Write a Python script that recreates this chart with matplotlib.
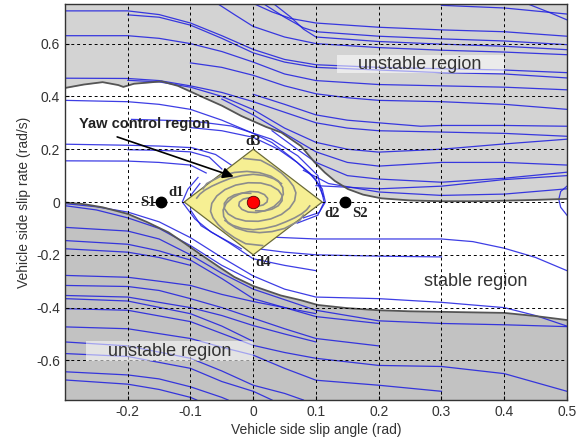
import matplotlib
matplotlib.use("Agg")
import matplotlib.pyplot as plt
from matplotlib.patches import Polygon, Rectangle

plt.rcParams["font.family"] = ["Liberation Sans", "DejaVu Sans"]

# axis ticks
x_ticks = [-0.2, -0.1, 0, 0.1, 0.2, 0.3, 0.4, 0.5]
x_tick_labels = ["-0.2", "-0.1", "0", "0.1", "0.2", "0.3", "0.4", "0.5"]
y_ticks = [-0.6, -0.4, -0.2, 0, 0.2, 0.4, 0.6]
y_tick_labels = ["-0.6", "-0.4", "-0.2", "0", "0.2", "0.4", "0.6"]

# stability boundaries
upper_bound_x = [-0.3, -0.27, -0.24, -0.215, -0.207, -0.19, -0.17, -0.146, -0.12, -0.083,
                 -0.05, -0.019, 0.02, 0.045, 0.076, 0.098, 0.114, 0.13, 0.151, 0.175,
                 0.204, 0.25, 0.3, 0.35, 0.4, 0.45, 0.5]
upper_bound_y = [0.432, 0.445, 0.454, 0.443, 0.436, 0.448, 0.452, 0.457, 0.44, 0.40,
                 0.365, 0.326, 0.285, 0.263, 0.212, 0.15, 0.112, 0.08, 0.049, 0.028,
                 0.014, 0.006, 0.003, 0.003, 0.005, 0.008, 0.012]
lower_bound_x = [-0.3, -0.27, -0.24, -0.2, -0.17, -0.135, -0.11, -0.083, -0.055, -0.03,
                 0.0, 0.044, 0.076, 0.103, 0.15, 0.2, 0.25, 0.3, 0.35, 0.4, 0.45, 0.5]
lower_bound_y = [-0.002, -0.008, -0.02, -0.045, -0.075, -0.115, -0.155, -0.2, -0.245, -0.284,
                 -0.318, -0.354, -0.372, -0.39, -0.402, -0.41, -0.414, -0.416, -0.418, -0.42,
                 -0.432, -0.447]

# trajectories in the upper unstable region
upper_paths = [
    [(-0.056, 0.75), (-0.03, 0.71), (0.0, 0.665), (0.05, 0.625), (0.1, 0.60), (0.2, 0.585), (0.3, 0.575), (0.4, 0.568), (0.5, 0.558)],
    [(0.002, 0.75), (0.03, 0.72), (0.06, 0.695), (0.1, 0.678), (0.2, 0.662), (0.3, 0.652), (0.4, 0.645), (0.5, 0.628)],
    [(0.017, 0.75), (0.05, 0.70), (0.08, 0.66), (0.1, 0.645), (0.2, 0.628), (0.3, 0.618), (0.4, 0.61), (0.5, 0.596)],
    [(0.033, 0.75), (0.06, 0.70), (0.08, 0.655), (0.1, 0.625), (0.2, 0.608), (0.3, 0.598), (0.4, 0.59), (0.5, 0.577)],
    [(0.30, 0.745), (0.4, 0.735), (0.5, 0.712)],
    [(0.44, 0.748), (0.47, 0.72), (0.5, 0.69)],
    [(-0.3, 0.724), (-0.2, 0.724), (-0.15, 0.71), (-0.1, 0.678), (-0.05, 0.63), (0.0, 0.578), (0.05, 0.54), (0.1, 0.52), (0.2, 0.51), (0.3, 0.505), (0.4, 0.5), (0.5, 0.49)],
    [(-0.2, 0.709), (-0.15, 0.70), (-0.1, 0.67), (-0.05, 0.62), (0.0, 0.565), (0.05, 0.53), (0.1, 0.51), (0.2, 0.50), (0.3, 0.49), (0.4, 0.485), (0.5, 0.47)],
    [(-0.3, 0.63), (-0.2, 0.63), (-0.15, 0.62), (-0.1, 0.60), (-0.05, 0.57), (0.0, 0.53), (0.05, 0.485), (0.1, 0.46), (0.2, 0.445), (0.3, 0.44), (0.4, 0.435), (0.5, 0.425)],
    [(-0.1, 0.527), (-0.05, 0.51), (0.0, 0.48), (0.05, 0.44), (0.1, 0.41), (0.15, 0.395), (0.2, 0.385), (0.3, 0.38), (0.4, 0.37), (0.5, 0.351)],
    [(0.0, 0.408), (0.05, 0.37), (0.1, 0.33), (0.15, 0.31), (0.2, 0.30), (0.267, 0.287), (0.3, 0.29), (0.4, 0.29), (0.5, 0.287)],
    [(-0.3, 0.469), (-0.2, 0.468), (-0.15, 0.46), (-0.1, 0.44), (-0.05, 0.415), (0.0, 0.38), (0.05, 0.34), (0.1, 0.30), (0.15, 0.28), (0.2, 0.27), (0.3, 0.265), (0.4, 0.26), (0.5, 0.249)],
    [(-0.2, 0.461), (-0.15, 0.455), (-0.1, 0.435), (-0.05, 0.40), (0.0, 0.35), (0.05, 0.28), (0.1, 0.226), (0.15, 0.20), (0.2, 0.189), (0.3, 0.2), (0.4, 0.22), (0.5, 0.238)],
    [(-0.05, 0.39), (0.0, 0.33), (0.05, 0.26), (0.1, 0.19), (0.15, 0.15), (0.2, 0.136), (0.3, 0.15), (0.4, 0.15), (0.5, 0.14)],
    [(0.03, 0.27), (0.07, 0.2), (0.1, 0.15), (0.15, 0.1), (0.2, 0.087), (0.3, 0.075), (0.4, 0.09), (0.5, 0.113)],
    [(0.08, 0.12), (0.12, 0.07), (0.2, 0.038), (0.3, 0.025), (0.4, 0.03), (0.5, 0.05)],
    [(0.1, 0.062), (0.2, 0.05), (0.3, 0.06), (0.4, 0.085), (0.5, 0.1)],
    [(0.5, 0.06), (0.49, 0.04), (0.487, 0.01), (0.49, -0.02), (0.5, -0.05)],
]

# trajectories in the lower unstable region
lower_paths = [
    [(-0.3, -0.014), (-0.25, -0.03), (-0.2, -0.06), (-0.15, -0.1), (-0.1, -0.165), (-0.05, -0.24), (0.0, -0.30)],
    [(-0.3, -0.096), (-0.2, -0.11), (-0.15, -0.14), (-0.1, -0.2), (-0.05, -0.27), (0.0, -0.33), (0.05, -0.37), (0.1, -0.41), (0.2, -0.45), (0.3, -0.46), (0.4, -0.465), (0.5, -0.472)],
    [(-0.3, -0.146), (-0.2, -0.16), (-0.15, -0.185), (-0.1, -0.22), (-0.05, -0.29), (0.0, -0.366), (0.05, -0.40), (0.1, -0.434), (0.2, -0.46)],
    [(-0.3, -0.177), (-0.2, -0.19), (-0.15, -0.21), (-0.1, -0.24)],
    [(-0.3, -0.278), (-0.2, -0.285), (-0.15, -0.30), (-0.1, -0.316), (-0.05, -0.35), (0.0, -0.377), (0.05, -0.40), (0.1, -0.423)],
    [(-0.3, -0.316), (-0.2, -0.32), (-0.15, -0.335), (-0.1, -0.366), (-0.05, -0.40), (0.0, -0.44), (0.05, -0.48), (0.1, -0.517), (0.2, -0.545)],
    [(-0.3, -0.354), (-0.2, -0.36), (-0.1, -0.40), (-0.05, -0.43), (0.0, -0.468), (0.05, -0.50), (0.1, -0.53)],
    [(-0.3, -0.366), (-0.2, -0.375), (-0.1, -0.423), (-0.05, -0.47), (0.0, -0.528)],
    [(-0.3, -0.404), (-0.2, -0.41), (-0.1, -0.453), (0.0, -0.543), (0.05, -0.57), (0.1, -0.592), (0.2, -0.619), (0.3, -0.623), (0.4, -0.65), (0.5, -0.717)],
    [(-0.3, -0.473), (-0.2, -0.48), (-0.1, -0.517), (-0.05, -0.55), (0.0, -0.58), (0.05, -0.63), (0.1, -0.675), (0.2, -0.694), (0.3, -0.717)],
    [(-0.3, -0.53), (-0.2, -0.545), (-0.1, -0.592), (-0.05, -0.64), (0.0, -0.694), (0.05, -0.725), (0.08, -0.75)],
    [(-0.3, -0.574), (-0.2, -0.585), (-0.1, -0.63), (-0.05, -0.68), (0.0, -0.717), (0.03, -0.75)],
    [(-0.3, -0.643), (-0.2, -0.655), (-0.15, -0.67), (-0.1, -0.70), (-0.05, -0.74), (-0.04, -0.75)],
    [(-0.3, -0.674), (-0.2, -0.69), (-0.15, -0.71), (-0.1, -0.74), (-0.09, -0.75)],
]

# trajectories in the stable (white) region
stable_paths = [
    [(-0.3, 0.385), (-0.2, 0.38), (-0.15, 0.37), (-0.1, 0.351), (-0.05, 0.31), (0.0, 0.26), (0.03, 0.225), (0.06, 0.17), (0.09, 0.11), (0.11, 0.05), (0.115, 0.0), (0.105, -0.04), (0.08, -0.06)],
    [(-0.1, 0.282), (-0.05, 0.27), (0.0, 0.245), (0.04, 0.2), (0.07, 0.15), (0.1, 0.085), (0.112, 0.02)],
    [(-0.194, 0.313), (-0.098, 0.307), (-0.035, 0.288), (0.029, 0.238), (0.071, 0.175), (0.103, 0.1), (0.113, 0.0), (0.103, -0.05), (0.07, -0.08)],
    [(-0.3, 0.219), (-0.2, 0.215), (-0.15, 0.212), (-0.098, 0.206), (-0.06, 0.18), (-0.035, 0.14)],
    [(-0.2, 0.198), (-0.15, 0.196), (-0.1, 0.19), (-0.07, 0.17), (-0.05, 0.125)],
    [(-0.3, 0.156), (-0.2, 0.155), (-0.15, 0.15), (-0.1, 0.14), (-0.075, 0.11)],
    [(-0.088, 0.093), (-0.104, 0.049), (-0.113, 0.0), (-0.093, -0.064), (-0.067, -0.114), (-0.019, -0.177)],
    [(0.5, -0.26), (0.45, -0.21), (0.4, -0.175), (0.35, -0.15), (0.3, -0.14), (0.2, -0.14), (0.1, -0.14), (0.03, -0.133)],
    [(0.3, -0.208), (0.2, -0.205), (0.1, -0.2), (0.05, -0.19), (0.007, -0.177)],
    [(0.1, -0.26), (0.05, -0.24), (0.0, -0.215), (-0.04, -0.152), (-0.083, -0.09), (-0.1, -0.03), (-0.098, 0.03), (-0.085, 0.07)],
    [(0.5, -0.47), (0.45, -0.43), (0.4, -0.40), (0.3, -0.38), (0.2, -0.366), (0.1, -0.36), (0.05, -0.33), (0.0, -0.28), (-0.05, -0.21), (-0.1, -0.135), (-0.15, -0.075), (-0.2, -0.038), (-0.25, -0.018), (-0.3, -0.006)],
]

# yaw control diamond d1, d3, d2, d4
diamond_x = [-0.11, 0.0, 0.11, 0.0]
diamond_y = [0.0, 0.2, 0.0, -0.2]

# gray spiral arms inside the diamond
spiral_a = [(-0.08, 0.05), (-0.074, 0.07), (-0.062, 0.085), (-0.05, 0.1), (-0.03, 0.112), (-0.01, 0.116),
            (0.01, 0.111), (0.028, 0.098), (0.04, 0.08), (0.047, 0.055), (0.048, 0.03), (0.043, 0.005),
            (0.033, -0.017), (0.02, -0.032), (0.005, -0.04), (-0.008, -0.038), (-0.018, -0.028),
            (-0.023, -0.014), (-0.022, 0.0), (-0.016, 0.011), (-0.007, 0.016), (0.002, 0.014),
            (0.007, 0.006), (0.006, -0.002)]
spiral_b = [(0.08, -0.05), (0.074, -0.07), (0.062, -0.085), (0.05, -0.1), (0.03, -0.112), (0.01, -0.116),
            (-0.01, -0.111), (-0.028, -0.098), (-0.04, -0.08), (-0.047, -0.055), (-0.048, -0.03), (-0.043, -0.005),
            (-0.033, 0.017), (-0.02, 0.032), (-0.005, 0.04), (0.008, 0.038), (0.018, 0.028),
            (0.023, 0.014), (0.022, 0.0), (0.016, -0.011), (0.007, -0.016), (-0.002, -0.014),
            (-0.007, -0.006), (-0.006, 0.002)]
spiral_c = [(-0.015, 0.165), (0.012, 0.158), (0.03, 0.135), (0.045, 0.11), (0.056, 0.085),
            (0.064, 0.06), (0.068, 0.035), (0.066, 0.005), (0.058, -0.023), (0.045, -0.047), (0.028, -0.064),
            (0.008, -0.073), (-0.012, -0.072), (-0.028, -0.062), (-0.04, -0.045), (-0.046, -0.025),
            (-0.046, -0.005), (-0.04, 0.014), (-0.03, 0.027), (-0.017, 0.034), (-0.004, 0.033)]
spiral_d = [(0.015, -0.165), (-0.012, -0.158), (-0.03, -0.135), (-0.045, -0.11), (-0.056, -0.085),
            (-0.064, -0.06), (-0.068, -0.035), (-0.066, -0.005), (-0.058, 0.023), (-0.045, 0.047), (-0.028, 0.064),
            (-0.008, 0.073), (0.012, 0.072), (0.028, 0.062), (0.04, 0.045), (0.046, 0.025),
            (0.046, 0.005), (0.04, -0.014), (0.03, -0.027), (0.017, -0.034), (0.004, -0.033)]
spiral_e = [(-0.09, 0.015), (-0.085, 0.03), (-0.077, 0.045), (-0.066, 0.06), (-0.052, 0.075), (-0.036, 0.09),
            (-0.018, 0.1), (0.0, 0.105), (0.018, 0.1), (0.033, 0.088), (0.045, 0.07)]
spiral_f = [(0.09, -0.015), (0.085, -0.03), (0.077, -0.045), (0.066, -0.06), (0.052, -0.075), (0.036, -0.09),
            (0.018, -0.1), (0.0, -0.105), (-0.018, -0.1), (-0.033, -0.088), (-0.045, -0.07)]
spiral_paths = [spiral_a, spiral_b, spiral_c, spiral_d, spiral_e, spiral_f]

equilibrium = (0.0, 0.0)
saddle_points = [(-0.147, 0.0), (0.147, 0.0)]

# translucent label boxes: (x0, y0, width, height)
upper_label_box = (0.133, 0.49, 0.267, 0.067)
lower_label_box = (-0.266, -0.604, 0.266, 0.076)

BLUE = "#1c1ce0"

fig = plt.figure(figsize=(5.76, 4.46), dpi=100)
ax = fig.add_axes([0.1128, 0.1031, 0.8715, 0.8879])
ax.set_xlim(-0.3, 0.5)
ax.set_ylim(-0.75, 0.75)

# unstable regions
ax.fill_between(upper_bound_x, upper_bound_y, 0.75, color="#d3d3d3", lw=0, zorder=0)
ax.fill_between(lower_bound_x, lower_bound_y, -0.75, color="#c2c2c2", lw=0, zorder=0)

for path in upper_paths + lower_paths + stable_paths:
    xs, ys = zip(*path)
    ax.plot(xs, ys, color=BLUE, lw=0.9, alpha=0.85, zorder=1)

ax.plot(upper_bound_x, upper_bound_y, color="#555555", lw=1.3, zorder=2)
ax.plot(lower_bound_x, lower_bound_y, color="#555555", lw=1.3, zorder=2)

ax.add_patch(Polygon(list(zip(diamond_x, diamond_y)), closed=True,
                     facecolor="#f6ef93", edgecolor="#6b6b3a", lw=0.9, zorder=3))
for path in spiral_paths:
    xs, ys = zip(*path)
    ax.plot(xs, ys, color="#8c8c8c", lw=1.2, zorder=3.5)

# grid on top of the fills
ax.set_xticks(x_ticks)
ax.set_xticklabels(x_tick_labels)
ax.set_yticks(y_ticks)
ax.set_yticklabels(y_tick_labels)
ax.grid(True, color="black", linestyle=(0, (3, 3)), lw=0.7)
ax.set_axisbelow(False)
for gl in ax.get_xgridlines() + ax.get_ygridlines():
    gl.set_zorder(4)

ax.plot(*equilibrium, "o", ms=9, mfc="red", mec="#550000", mew=0.6, zorder=6)
for sx, sy in saddle_points:
    ax.plot(sx, sy, "o", ms=7.5, color="black", zorder=6)

serif = dict(family="Liberation Serif", fontweight="bold", fontsize=10.5, color="#222222", zorder=7)
ax.text(-0.156, 0.0, "S1", ha="right", va="center", **serif)
ax.text(0.158, -0.042, "S2", ha="left", va="center", **serif)
ax.text(-0.11, 0.012, "d1", ha="right", va="bottom", **serif)
ax.text(0.114, -0.045, "d2", ha="left", va="center", **serif)
ax.text(0.0, 0.228, "d3", ha="center", va="center", **serif)
ax.text(0.003, -0.228, "d4", ha="left", va="center", **serif)

ax.text(-0.277, 0.294, "Yaw control region", ha="left", va="center",
        fontsize=10.5, fontweight="bold", color="#222222", zorder=7)
ax.annotate("", xy=(-0.027, 0.093), xytext=(-0.221, 0.25),
            arrowprops=dict(arrowstyle="-|>", color="black", lw=1.2, mutation_scale=16),
            zorder=7)

for bx, by, bw, bh in [upper_label_box, lower_label_box]:
    ax.add_patch(Rectangle((bx, by), bw, bh, facecolor="white", edgecolor="none",
                           alpha=0.55, zorder=5))
ax.text(0.266, 0.522, "unstable region", ha="center", va="center", fontsize=13,
        color="#333333", zorder=5.5)
ax.text(-0.133, -0.566, "unstable region", ha="center", va="center", fontsize=13,
        color="#333333", zorder=5.5)
ax.text(0.354, -0.30, "stable region", ha="center", va="center", fontsize=13,
        color="#333333", zorder=5.5)

ax.tick_params(direction="in", length=3, labelsize=10, labelcolor="#333333")
ax.set_xlabel("Vehicle side slip angle (rad)", fontsize=10, color="#333333", labelpad=3)
ax.set_ylabel("Vehicle side slip rate (rad/s)", fontsize=10, color="#333333", labelpad=4)
for sp in ax.spines.values():
    sp.set_color("#333333")
    sp.set_linewidth(1.0)
    sp.set_zorder(8)

fig.savefig("out.png", dpi=100)
